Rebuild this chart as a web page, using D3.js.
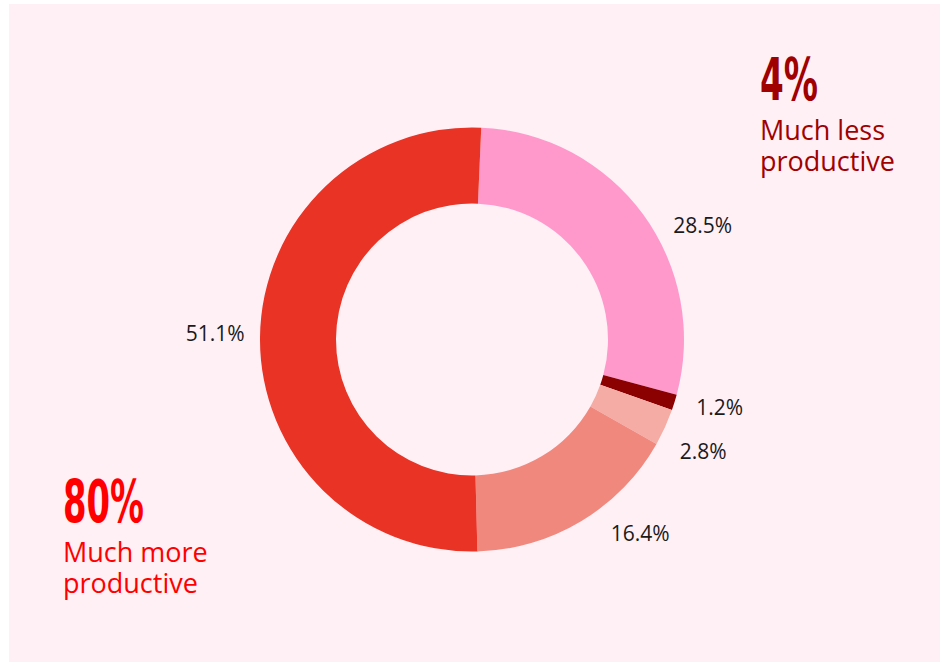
<!DOCTYPE html>
<html>
<head>
<meta charset="utf-8">
<script src="https://cdn.jsdelivr.net/npm/d3@7"></script>
<style>
  html, body { margin: 0; padding: 0; background: #ffffff; }
  svg { display: block; }
</style>
</head>
<body>
<svg id="chart" width="947" height="666"></svg>
<script>
// Share of respondents by productivity change (clockwise from the top)
const categories = ["Slightly more", "Much less", "Slightly less", "Same", "Much more"];
const shares = [28.5, 1.2, 2.8, 16.4, 51.1];
const sliceColors = ["#ff99cc", "#8b0000", "#f4aca4", "#f0887e", "#e83325"];
const valueLabels = ["28.5%", "1.2%", "2.8%", "16.4%", "51.1%"];

// Headline call-outs
const calloutValues = ["4%", "80%"];
const calloutLines = [["Much less", "productive"], ["Much more", "productive"]];

// Label angle adjustments (degrees) so outside labels do not crowd each other
const labelAngleShift = [10, -1.8, 1.4, -9.9, 0.8];

const W = 947, H = 666;
const cx = 472, cy = 339.5;
const outerR = 212, innerR = 136, labelR = 257;
const startAngle = 2.5 * Math.PI / 180;

const svg = d3.select("#chart");

svg.append("rect")
  .attr("x", 9).attr("y", 4)
  .attr("width", 931).attr("height", 658)
  .attr("fill", "#fff0f6");

const data = categories.map((c, i) => ({ cat: c, value: shares[i], color: sliceColors[i], label: valueLabels[i], shift: labelAngleShift[i] }));

const pie = d3.pie()
  .value(d => d.value)
  .sort(null)
  .startAngle(startAngle)
  .endAngle(startAngle + 2 * Math.PI);

const arc = d3.arc().innerRadius(innerR).outerRadius(outerR);

const g = svg.append("g").attr("transform", `translate(${cx},${cy})`);
const arcs = pie(data);

g.selectAll("path.slice")
  .data(arcs)
  .join("path")
  .attr("class", "slice")
  .attr("d", arc)
  .attr("fill", d => d.data.color);

const labelAngle = d => (d.startAngle + d.endAngle) / 2 + d.data.shift * Math.PI / 180;

g.selectAll("text.value")
  .data(arcs)
  .join("text")
  .attr("class", "value")
  .attr("x", d => labelR * Math.sin(labelAngle(d)))
  .attr("y", d => -labelR * Math.cos(labelAngle(d)))
  .attr("text-anchor", "middle")
  .attr("dy", "0.35em")
  .attr("font-family", "'Open Sans', sans-serif")
  .attr("font-size", 21)
  .attr("fill", "#1a1a1a")
  .text(d => d.data.label);

// Call-outs: big figure plus two-line caption
function callout(x, baseline, value, valueWidth, lines, color) {
  const c = svg.append("g");
  c.append("text")
    .attr("x", x).attr("y", baseline)
    .attr("font-family", "'Liberation Sans Narrow', 'DejaVu Sans Condensed', 'Liberation Sans', sans-serif")
    .attr("font-weight", "bold")
    .attr("font-size", 59)
    .attr("textLength", valueWidth)
    .attr("lengthAdjust", "spacingAndGlyphs")
    .attr("fill", color)
    .text(value);
  const cap = c.append("text")
    .attr("x", x).attr("y", baseline + 39.5)
    .attr("font-family", "'Open Sans', sans-serif")
    .attr("font-size", 27)
    .attr("fill", color);
  lines.forEach((ln, i) => {
    cap.append("tspan")
      .attr("x", x)
      .attr("dy", i === 0 ? 0 : 31)
      .text(ln);
  });
}

callout(760, 100, calloutValues[0], 58, calloutLines[0], "#a00000");
callout(63, 522, calloutValues[1], 81, calloutLines[1], "#ff0000");
</script>
</body>
</html>
